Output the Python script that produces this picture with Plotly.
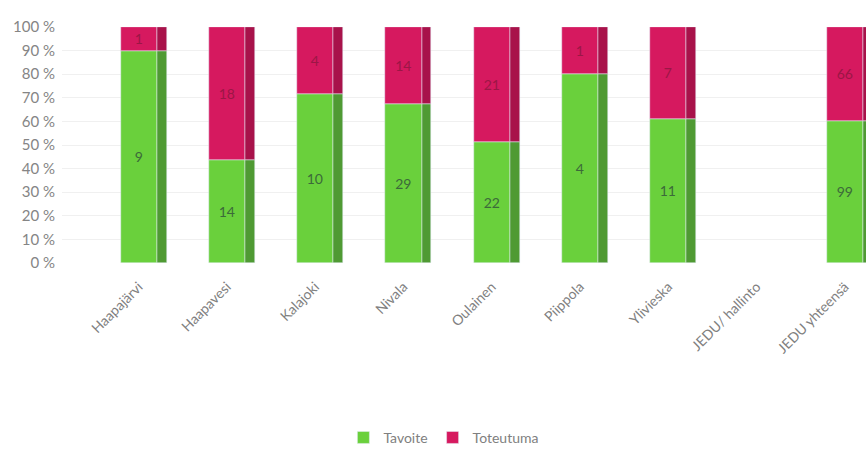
import plotly.graph_objects as go

categories = ["Haapajärvi", "Haapavesi", "Kalajoki", "Nivala", "Oulainen",
              "Piippola", "Ylivieska", "JEDU/ hallinto", "JEDU yhteensä"]
tavoite = [9, 14, 10, 29, 22, 4, 11, None, 99]
toteutuma = [1, 18, 4, 14, 21, 1, 7, None, 66]
y_ticks = list(range(0, 101, 10))
y_tick_labels = [f"{v} %" for v in y_ticks]

tav_pct, tot_pct = [], []
for a, b in zip(tavoite, toteutuma):
    if a is None or b is None:
        tav_pct.append(None); tot_pct.append(None)
    else:
        s = a + b
        tav_pct.append(a / s * 100); tot_pct.append(b / s * 100)
zero_base = [0 if v is not None else None for v in tav_pct]

green = "#6ad03c"
green_side = "#4f9a33"
pink = "#d6195f"
pink_side = "#a8124a"
font = "Lato, 'Open Sans', sans-serif"

fig = go.Figure()
# side faces (3D look)
fig.add_bar(x=categories, y=tav_pct, base=zero_base,
            width=0.11, offset=0.205, marker_color=green_side, showlegend=False,
            hoverinfo="skip")
fig.add_bar(x=categories, y=tot_pct, base=tav_pct,
            width=0.11, offset=0.205, marker_color=pink_side, showlegend=False,
            hoverinfo="skip")
# front faces
fig.add_bar(x=categories, y=tav_pct, base=zero_base,
            width=0.41, name="Tavoite", marker_color=green,
            text=[str(v) if v is not None else "" for v in tavoite],
            textposition="inside", insidetextanchor="middle",
            textfont=dict(color="#3c6a3a", size=14, family=font))
fig.add_bar(x=categories, y=tot_pct, base=tav_pct,
            width=0.41, name="Toteutuma", marker_color=pink,
            text=[str(v) if v is not None else "" for v in toteutuma],
            textposition="inside", insidetextanchor="middle",
            textfont=dict(color="#9c1646", size=14, family=font))

fig.update_layout(
    width=866, height=450,
    barmode="overlay",
    margin=dict(l=62, r=0, t=27, b=187, autoexpand=False),
    paper_bgcolor="white", plot_bgcolor="white",
    font=dict(family=font, size=14, color="#808080"),
    legend=dict(orientation="h", x=0.475, xanchor="center", yref="container",
                y=0.027, yanchor="middle", font=dict(size=14, color="#808080"),
                traceorder="normal"),
    xaxis=dict(range=[-0.87, 8.24], tickangle=-45, showgrid=False,
               showline=False, ticks="", ticklabelstandoff=12, automargin=False,
               tickfont=dict(size=14, color="#808080")),
    yaxis=dict(range=[0, 100], tickmode="array", tickvals=y_ticks,
               ticktext=y_tick_labels, automargin=False, ticklabelstandoff=6,
               showgrid=True, gridcolor="#f0f0f0",
               zeroline=False, showline=False,
               tickfont=dict(size=15, color="#858585")),
    bargap=0,
)

fig.write_html("out.html", config={"displayModeBar": False},
               post_script="document.body.style.margin='0';document.body.style.overflow='hidden';")
